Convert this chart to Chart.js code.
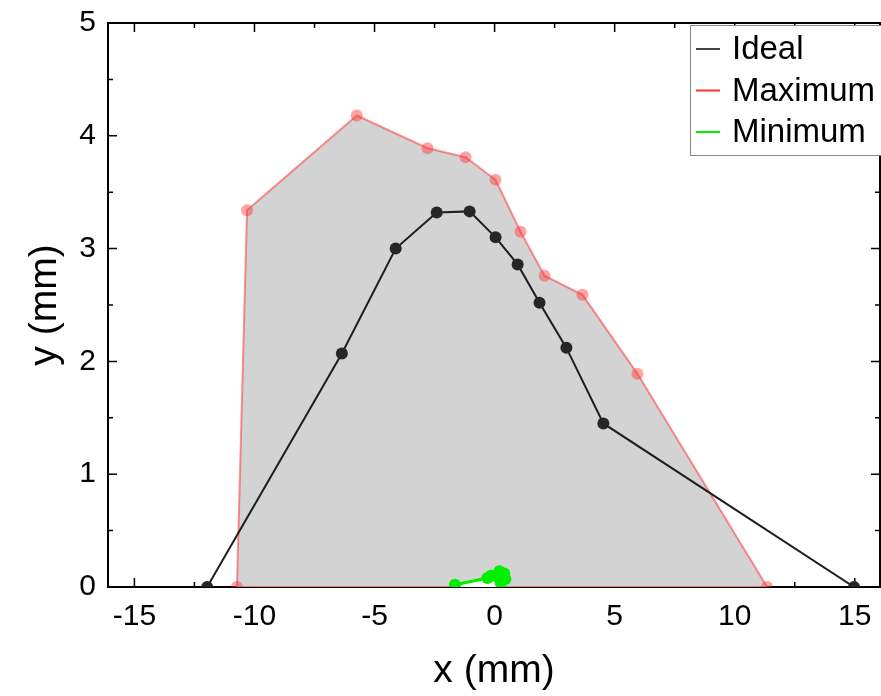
<!DOCTYPE html>
<html>
<head>
<meta charset="utf-8">
<script src="https://cdn.jsdelivr.net/npm/chart.js@4.4.1/dist/chart.umd.min.js"></script>
<style>
  html, body { margin: 0; padding: 0; background: #fff; overflow: hidden; }
  #wrap { width: 881px; height: 696px; position: relative; overflow: hidden; }
</style>
</head>
<body>
<div id="wrap"><canvas id="myChart" width="886" height="696"></canvas></div>
<script>
// values
var idealX = [-11.97, -6.36, -4.12, -2.41, -1.04, 0.04, 0.96, 1.87, 2.99, 4.53, 14.97];
var idealY = [0, 2.07, 3.0, 3.32, 3.33, 3.10, 2.86, 2.52, 2.12, 1.45, 0];

var maxX = [-10.73, -10.31, -5.74, -2.79, -1.21, 0.04, 1.08, 2.08, 3.66, 5.95, 11.35];
var maxY = [0, 3.34, 4.18, 3.89, 3.81, 3.61, 3.15, 2.76, 2.59, 1.89, 0];

var minX = [-1.65, -0.3, -0.15, 0.05, 0.2, 0.4, 0.45, 0.25];
var minY = [0.02, 0.08, 0.1, 0.1, 0.14, 0.12, 0.07, 0.04];

var xTicks = [-15, -10, -5, 0, 5, 10, 15];
var xMinor = [-12.5, -7.5, -2.5, 2.5, 7.5, 12.5];
var yTicks = [0, 1, 2, 3, 4, 5];
var yMinor = [0.5, 1.5, 2.5, 3.5, 4.5];

const font = "'Liberation Sans', Arial, sans-serif";

const toPoints = (xs, ys) => xs.map((v, i) => ({x: v, y: ys[i]}));

// box round the plot with inward ticks on all four sides
const frame = {
  id: 'frame',
  beforeDatasetsDraw(chart) {
    const {ctx, chartArea: a, scales: {x, y}} = chart;
    ctx.save();
    ctx.strokeStyle = '#000';
    ctx.lineWidth = 2;
    ctx.strokeRect(a.left, a.top, a.right - a.left, a.bottom - a.top);
    ctx.lineWidth = 1.5;
    const tickX = (v, len) => {
      let p = x.getPixelForValue(v);
      ctx.beginPath();
      ctx.moveTo(p, a.bottom); ctx.lineTo(p, a.bottom - len);
      ctx.moveTo(p, a.top); ctx.lineTo(p, a.top + len);
      ctx.stroke();
    };
    const tickY = (v, len) => {
      let p = y.getPixelForValue(v);
      ctx.beginPath();
      ctx.moveTo(a.left, p); ctx.lineTo(a.left + len, p);
      ctx.moveTo(a.right, p); ctx.lineTo(a.right - len, p);
      ctx.stroke();
    };
    xTicks.forEach(v => tickX(v, 9));
    xMinor.forEach(v => tickX(v, 5));
    yTicks.forEach(v => tickY(v, 9));
    yMinor.forEach(v => tickY(v, 5));
    ctx.restore();
  }
};

// legend box in the top right corner
const legendBox = {
  id: 'legendBox',
  afterDraw(chart) {
    const {ctx, chartArea: a} = chart;
    const left = a.right - 190, top = a.top + 2;
    ctx.save();
    ctx.fillStyle = '#fff';
    ctx.fillRect(left, top, 220, 130);
    ctx.strokeStyle = '#888';
    ctx.lineWidth = 1;
    ctx.strokeRect(left + 0.5, top + 0.5, 220, 130);
    ctx.font = '33px ' + font;
    ctx.textBaseline = 'middle';
    ctx.fillStyle = '#000';
    chart.data.datasets.filter(d => d.legendColor).forEach((d, i) => {
      let cy = top + 24 + i * 41.5;
      ctx.strokeStyle = d.legendColor;
      ctx.lineWidth = 2;
      ctx.beginPath();
      ctx.moveTo(left + 6, cy); ctx.lineTo(left + 30, cy);
      ctx.stroke();
      ctx.fillText(d.label, left + 42, cy + 1);
    });
    ctx.restore();
  }
};

var myChart;

window.addEventListener('DOMContentLoaded', () => {
  let info = {
    datasets: [{
      label: 'Ideal',
      data: toPoints(idealX, idealY),
      borderColor: '#1e1e1e',
      legendColor: '#444',
      borderWidth: 2,
      pointRadius: 6,
      pointBackgroundColor: '#262626',
      pointBorderWidth: 0,
      fill: false,
      tension: 0,
      order: 0
    }, {
      label: 'Maximum',
      data: toPoints(maxX, maxY),
      borderColor: 'rgba(255, 40, 40, 0.5)',
      legendColor: '#ff3030',
      backgroundColor: '#d3d3d3',
      borderWidth: 2,
      pointRadius: 6,
      pointBackgroundColor: 'rgba(255, 50, 50, 0.45)',
      pointBorderWidth: 0,
      fill: 'origin',
      tension: 0,
      order: 3
    }, {
      label: 'Minimum',
      data: toPoints(minX, minY),
      borderColor: '#00ee00',
      legendColor: '#00ee00',
      backgroundColor: '#ffffff',
      borderWidth: 3,
      pointRadius: 6,
      pointBackgroundColor: '#00ee00',
      pointBorderWidth: 0,
      fill: 'origin',
      tension: 0,
      order: 1
    }, {
      // closing edge of the maximum outline along y = 0
      label: 'Maximum base',
      data: toPoints([maxX[0], maxX[maxX.length - 1]], [0, 0]),
      borderColor: 'rgba(255, 40, 40, 0.55)',
      borderWidth: 2,
      pointRadius: 0,
      fill: false,
      order: 2
    }]
  };

  let config = {
    type: 'line',
    data: info,
    plugins: [frame, legendBox],
    options: {
      responsive: false,
      animation: false,
      layout: { padding: { top: 23, left: 0, right: 0, bottom: 0 } },
      plugins: { legend: { display: false }, tooltip: { enabled: false } },
      scales: {
        x: {
          type: 'linear',
          min: -16.1,
          max: 16.05,
          grid: { display: false, drawTicks: false },
          border: { display: false },
          afterBuildTicks: (s) => { s.ticks = xTicks.map(v => ({value: v})); },
          afterFit: (s) => { s.height = 109; s.paddingLeft = 0; s.paddingRight = 0; },
          ticks: { color: '#000', font: { family: font, size: 30 }, padding: 12, maxRotation: 0 },
          title: { display: true, text: 'x (mm)', color: '#000', font: { family: font, size: 39 }, padding: { top: 0, bottom: 1 } }
        },
        y: {
          type: 'linear',
          min: 0,
          max: 5,
          grid: { display: false, drawTicks: false },
          border: { display: false },
          afterBuildTicks: (s) => { s.ticks = yTicks.map(v => ({value: v})); },
          afterFit: (s) => { s.width = 108; s.paddingTop = 0; s.paddingBottom = 0; },
          ticks: { color: '#000', font: { family: font, size: 30 }, padding: 12 },
          title: { display: true, text: 'y (mm)', color: '#000', font: { family: font, size: 39 }, padding: { top: 22, bottom: 0 } }
        }
      }
    }
  };

  myChart = new Chart(document.getElementById('myChart'), config);
});
</script>
</body>
</html>
